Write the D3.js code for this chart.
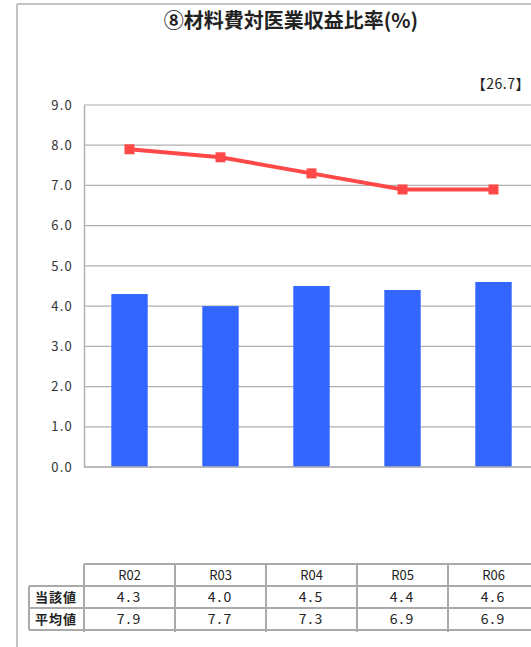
<!DOCTYPE html>
<html><head><meta charset="utf-8">
<script src="https://cdn.jsdelivr.net/npm/d3@7"></script>
<style>
html,body{margin:0;padding:0;background:#fff;}
svg{display:block;}
text{font-family:"Noto Sans CJK JP","Noto Sans",sans-serif;}
</style></head>
<body>
<svg id="c" width="531" height="647"></svg>
<script>
const categories = ["R02","R03","R04","R05","R06"];
const currentValues = [4.3,4.0,4.5,4.4,4.6];
const averageValues = [7.9,7.7,7.3,6.9,6.9];
const yTickValues = [0,1,2,3,4,5,6,7,8,9];
const rowLabels = ["当該値","平均値"];
const titleText = "⑧材料費対医業収益比率(%)";
const noteText = "【26.7】";

const svg = d3.select("#c");
const fmt = d3.format(".1f");
const textColor = "#333";
const gridColor = "#b0b0b0";

// outer frame
svg.append("line").attr("x1",17).attr("x2",17).attr("y1",4).attr("y2",647).attr("stroke","#c4c4c4").attr("stroke-width",2);
svg.append("line").attr("x1",17).attr("x2",531).attr("y1",4).attr("y2",4).attr("stroke","#c4c4c4").attr("stroke-width",2);

// title
svg.append("text").attr("x",291).attr("y",28).attr("text-anchor","middle")
  .attr("font-size",20).attr("font-weight","bold").attr("fill","#222").text(titleText);

// note
svg.append("text").attr("x",530).attr("y",89).attr("text-anchor","end")
  .attr("font-size",14).attr("fill","#222").style("letter-spacing","0.5px").text(noteText);

const x = d3.scaleBand().domain(categories).range([84, 539]).padding(0);
const y = d3.scaleLinear().domain([0,9]).range([467,105]);

// grid
const grid = svg.append("g");
grid.selectAll("line").data(yTickValues).join("line")
  .attr("x1",84).attr("x2",531).attr("y1",d=>y(d)).attr("y2",d=>y(d))
  .attr("stroke",gridColor).attr("stroke-width",1.2);

// y axis
const yAxis = svg.append("g").attr("transform","translate(84,0)")
  .call(d3.axisLeft(y).tickValues(yTickValues).tickFormat(fmt).tickSize(0).tickPadding(11));
yAxis.select(".domain").attr("stroke",gridColor).attr("stroke-width",1.5);
yAxis.selectAll("text").attr("font-size",13).attr("fill",textColor).attr("font-family","\"Noto Sans CJK JP\",sans-serif").style("letter-spacing","1.2px");

// bars
const bw = x.bandwidth()*0.4;
svg.append("g").selectAll("rect").data(categories).join("rect")
  .attr("x",(d)=>x(d)+x.bandwidth()/2-bw/2)
  .attr("width",bw)
  .attr("y",(d,i)=>y(currentValues[i]))
  .attr("height",(d,i)=>y(0)-y(currentValues[i]))
  .attr("fill","#3366ff");

// bottom axis line
svg.append("line").attr("x1",84).attr("x2",531).attr("y1",y(0)).attr("y2",y(0)).attr("stroke",gridColor).attr("stroke-width",1.5);

// line
const line = d3.line().x((d,i)=>x(categories[i])+x.bandwidth()/2).y(d=>y(d));
svg.append("path").datum(averageValues).attr("d",line)
  .attr("fill","none").attr("stroke","#ff4848").attr("stroke-width",4);
svg.append("g").selectAll("rect").data(averageValues).join("rect")
  .attr("x",(d,i)=>x(categories[i])+x.bandwidth()/2-5)
  .attr("y",d=>y(d)-5).attr("width",10).attr("height",10).attr("fill","#ff4848");

// table
const rowTops = [564,586,608,630];
const tbl = svg.append("g");
const tcol = "#aaaaaa";
tbl.append("line").attr("x1",84).attr("x2",531).attr("y1",rowTops[0]).attr("y2",rowTops[0]).attr("stroke",tcol).attr("stroke-width",2);
[1,2,3].forEach(k=>{
  tbl.append("line").attr("x1",29).attr("x2",531).attr("y1",rowTops[k]).attr("y2",rowTops[k]).attr("stroke",tcol).attr("stroke-width",2);
});
tbl.append("line").attr("x1",29).attr("x2",29).attr("y1",rowTops[1]).attr("y2",rowTops[3]).attr("stroke",tcol).attr("stroke-width",2);
categories.forEach(c=>{
  const xx = x(c);
  tbl.append("line").attr("x1",xx).attr("x2",xx).attr("y1",rowTops[0]).attr("y2",rowTops[3]+2).attr("stroke",tcol).attr("stroke-width",2);
});
tbl.selectAll("text.h").data(categories).join("text").attr("class","h")
  .attr("x",d=>x(d)+x.bandwidth()/2).attr("y",rowTops[0]+16).attr("text-anchor","middle")
  .attr("font-size",13).attr("fill","#222").text(d=>d);
tbl.selectAll("text.r").data(rowLabels).join("text").attr("class","r")
  .attr("x",56).attr("y",(d,i)=>rowTops[i+1]+16).attr("text-anchor","middle")
  .attr("font-size",13).attr("font-weight","bold").attr("fill","#222").style("letter-spacing","1px").text(d=>d);
[currentValues, averageValues].forEach((vals,r)=>{
  tbl.append("g").selectAll("text").data(vals).join("text")
    .attr("x",(d,i)=>x(categories[i])+x.bandwidth()/2).attr("y",rowTops[r+1]+16)
    .attr("text-anchor","middle").attr("font-size",14).attr("fill","#222").style("letter-spacing","2px")
    .text(d=>fmt(d));
});
</script>
</body></html>
